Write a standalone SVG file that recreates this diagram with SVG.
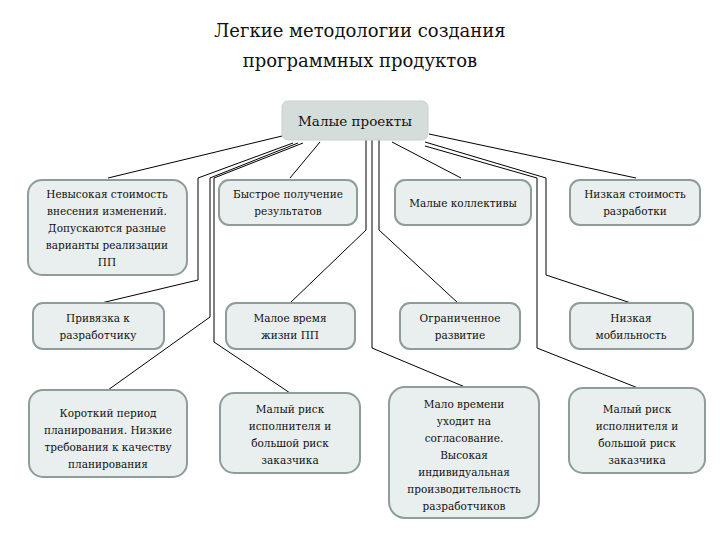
<svg xmlns="http://www.w3.org/2000/svg" width="720" height="540" viewBox="0 0 720 540" font-family="'DejaVu Serif', serif">
<style>
.b{fill:#e9efee;stroke:#8e9c9a;stroke-width:2}
.t{font-family:'DejaVu Serif','Liberation Serif',serif;font-size:10.5px;fill:#111;text-anchor:middle}
.c{fill:none;stroke:#000;stroke-width:1}
</style>
<rect width="720" height="540" fill="#fff"/>
<text x="360" y="37" class="t" style="font-size:18px">Легкие методологии создания</text>
<text x="360" y="67" class="t" style="font-size:18px">программных продуктов</text>
<g id="connectors">
<path class="c" d="M282 136 L108 178"/>
<path class="c" d="M320 142 L290 178"/>
<path class="c" d="M392 142 L461 178"/>
<path class="c" d="M429 134 L636 178"/>
<path class="c" d="M293 143 L198 178 L198 280 L97 304"/>
<path class="c" d="M298 143 L210 178 L210 317 L108 390"/>
<path class="c" d="M303 143 L214 178 L214 342 L290 393"/>
<path class="c" d="M366 140 L366 230 L290 303"/>
<path class="c" d="M372 140 L372 348 L465 387"/>
<path class="c" d="M379 140 L379 230 L458 303"/>
<path class="c" d="M425 142 L546 178 L546 275 L631 303"/>
<path class="c" d="M425 146 L537 178 L537 348 L638 388"/>
</g>
<g id="root"><rect x="282" y="101" width="146" height="39" rx="6" fill="#d5dddb" stroke="#c9d2d0"/><text x="355" y="126" class="t" style="font-size:13.5px">Малые проекты</text></g>
<g id="n1"><rect class="b" x="28" y="180" width="159" height="95" rx="14"/><text class="t" x="107" y="198">Невысокая стоимость<tspan x="107" dy="17">внесения изменений.</tspan><tspan x="107" dy="17">Допускаются разные</tspan><tspan x="107" dy="17">варианты реализации</tspan><tspan x="107" dy="17">ПП</tspan></text></g>
<g id="n2"><rect class="b" x="219" y="180" width="138" height="45" rx="10"/><text class="t" x="288" y="198">Быстрое получение<tspan x="288" dy="17">результатов</tspan></text></g>
<g id="n3"><rect class="b" x="395" y="180" width="136" height="45" rx="10"/><text class="t" x="463" y="207">Малые коллективы</text></g>
<g id="n4"><rect class="b" x="570" y="180" width="130" height="45" rx="10"/><text class="t" x="635" y="198">Низкая стоимость<tspan x="635" dy="17">разработки</tspan></text></g>
<g id="n5"><rect class="b" x="33" y="303" width="131" height="46" rx="10"/><text class="t" x="98" y="322">Привязка к<tspan x="98" dy="17">разработчику</tspan></text></g>
<g id="n6"><rect class="b" x="226" y="303" width="129" height="46" rx="10"/><text class="t" x="290" y="322">Малое время<tspan x="290" dy="17">жизни ПП</tspan></text></g>
<g id="n7"><rect class="b" x="400" y="303" width="120" height="46" rx="10"/><text class="t" x="460" y="322">Ограниченное<tspan x="460" dy="17">развитие</tspan></text></g>
<g id="n8"><rect class="b" x="570" y="303" width="123" height="46" rx="10"/><text class="t" x="631" y="322">Низкая<tspan x="631" dy="17">мобильность</tspan></text></g>
<g id="n9"><rect class="b" x="29" y="390" width="158" height="87" rx="14"/><text class="t" x="108" y="417">Короткий период<tspan x="108" dy="17">планирования. Низкие</tspan><tspan x="108" dy="17">требования к качеству</tspan><tspan x="108" dy="17">планирования</tspan></text></g>
<g id="n10"><rect class="b" x="220" y="393" width="140" height="80" rx="14"/><text class="t" x="290" y="413">Малый риск<tspan x="290" dy="17">исполнителя и</tspan><tspan x="290" dy="17">большой риск</tspan><tspan x="290" dy="17">заказчика</tspan></text></g>
<g id="n11"><rect class="b" x="389" y="387" width="150" height="131" rx="16"/><text class="t" x="464" y="408">Мало времени<tspan x="464" dy="17">уходит на</tspan><tspan x="464" dy="17">согласование.</tspan><tspan x="464" dy="17">Высокая</tspan><tspan x="464" dy="17">индивидуальная</tspan><tspan x="464" dy="17">производительность</tspan><tspan x="464" dy="17">разработчиков</tspan></text></g>
<g id="n12"><rect class="b" x="569" y="388" width="136" height="85" rx="14"/><text class="t" x="637" y="413">Малый риск<tspan x="637" dy="17">исполнителя и</tspan><tspan x="637" dy="17">большой риск</tspan><tspan x="637" dy="17">заказчика</tspan></text></g>
</svg>
